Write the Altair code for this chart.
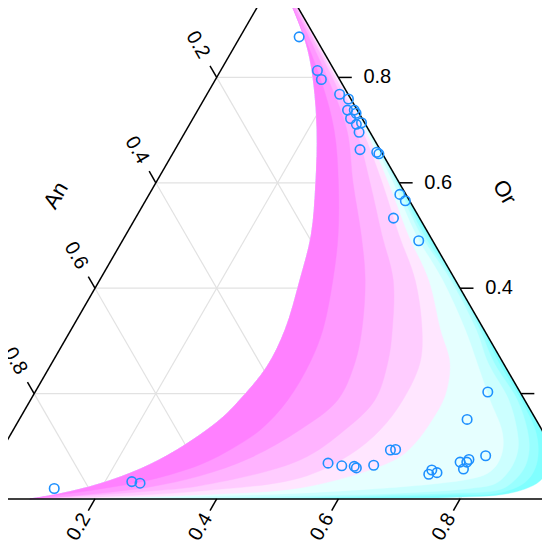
import altair as alt
import numpy as np
import pandas as pd

# ---------------- data (ternary fractions: An, Ab, Or) ----------------
pt_an = [0.026, 0.028, 0.030, 0.014, 0.004, 0.016, 0.005, 0.005, 0.019, 0.005,
         0.015, 0.018, 0.033, 0.008, 0.006, 0.010, 0.007, 0.043, 0.023, 0.053,
         0.113, 0.117, 0.148, 0.154, 0.165, 0.166, 0.219, 0.213, 0.228, 0.268,
         0.259, 0.383, 0.363, 0.343, 0.341, 0.310, 0.857, 0.723, 0.711]
pt_ab = [0.097, 0.159, 0.174, 0.218, 0.237, 0.246, 0.257, 0.263, 0.259, 0.281,
         0.274, 0.286, 0.304, 0.334, 0.339, 0.412, 0.427, 0.424, 0.487, 0.744,
         0.736, 0.801, 0.777, 0.776, 0.765, 0.777, 0.726, 0.737, 0.725, 0.639,
         0.647, 0.549, 0.574, 0.595, 0.600, 0.626, 0.123, 0.244, 0.259]
pt_or = [0.877, 0.813, 0.796, 0.768, 0.759, 0.738, 0.738, 0.732, 0.722, 0.714,
         0.711, 0.696, 0.663, 0.658, 0.655, 0.578, 0.566, 0.533, 0.490, 0.203,
         0.151, 0.082, 0.075, 0.070, 0.070, 0.057, 0.055, 0.050, 0.047, 0.093,
         0.094, 0.068, 0.063, 0.062, 0.059, 0.064, 0.020, 0.033, 0.030]

# density-band outlines as (Ab, Or) pairs
inner_curve = [(0, 1), (0.079, 0.909), (0.124, 0.852), (0.165, 0.789), (0.215, 0.700),
               (0.263, 0.600), (0.305, 0.501), (0.329, 0.416), (0.352, 0.321),
               (0.357, 0.251), (0.344, 0.188), (0.330, 0.150), (0.288, 0.093),
               (0.246, 0.057), (0.194, 0.029), (0.138, 0.010), (0.093, 0.0)]
level_1 = [(0, 1), (0.2, 0.8), (0.4, 0.6), (0.6, 0.4), (0.75, 0.25), (0.85, 0.15),
           (0.884, 0.112), (0.906, 0.078), (0.915, 0.055), (0.914, 0.034),
           (0.897, 0.019), (0.862, 0.008), (0.782, 0.003), (0.701, 0.001),
           (0.537, 0.0), (0.093, 0.0)]
level_2 = [(0, 1), (0.200, 0.800), (0.300, 0.700), (0.399, 0.600), (0.495, 0.501),
           (0.583, 0.416), (0.676, 0.321), (0.735, 0.258), (0.806, 0.188),
           (0.858, 0.131), (0.882, 0.093), (0.894, 0.059), (0.891, 0.032),
           (0.860, 0.012), (0.780, 0.008), (0.699, 0.005), (0.536, 0.002), (0.093, 0.0)]
level_3 = [(0, 1), (0.199, 0.801), (0.299, 0.700), (0.397, 0.600), (0.490, 0.501),
           (0.580, 0.416), (0.672, 0.321), (0.727, 0.258), (0.800, 0.188),
           (0.845, 0.131), (0.867, 0.093), (0.876, 0.061), (0.872, 0.036),
           (0.857, 0.018), (0.778, 0.011), (0.697, 0.008), (0.536, 0.003),
           (0.372, 0.001), (0.093, 0.0)]
level_4 = [(0, 1), (0.199, 0.801), (0.299, 0.700), (0.395, 0.600), (0.485, 0.501),
           (0.576, 0.416), (0.666, 0.321), (0.717, 0.258), (0.786, 0.188),
           (0.828, 0.131), (0.847, 0.097), (0.854, 0.068), (0.852, 0.044),
           (0.843, 0.029), (0.806, 0.020), (0.696, 0.011), (0.534, 0.006),
           (0.372, 0.002), (0.093, 0.0)]
level_5 = [(0, 1), (0.198, 0.801), (0.297, 0.700), (0.390, 0.600), (0.477, 0.501),
           (0.563, 0.416), (0.648, 0.321), (0.699, 0.258), (0.755, 0.188),
           (0.803, 0.131), (0.822, 0.097), (0.828, 0.068), (0.821, 0.049),
           (0.797, 0.038), (0.752, 0.030), (0.690, 0.023), (0.531, 0.011),
           (0.370, 0.005), (0.208, 0.001), (0.093, 0.0)]
level_6 = [(0, 1), (0.197, 0.801), (0.294, 0.700), (0.382, 0.600), (0.464, 0.501),
           (0.540, 0.416), (0.607, 0.321), (0.654, 0.258), (0.677, 0.197),
           (0.679, 0.150), (0.673, 0.106), (0.661, 0.080), (0.624, 0.055),
           (0.526, 0.021), (0.369, 0.008), (0.207, 0.002), (0.093, 0.0)]
level_7 = [(0, 1), (0.194, 0.801), (0.289, 0.700), (0.372, 0.600), (0.449, 0.501),
           (0.518, 0.416), (0.577, 0.321), (0.605, 0.258), (0.612, 0.188),
           (0.603, 0.131), (0.577, 0.084), (0.517, 0.040), (0.365, 0.015),
           (0.206, 0.004), (0.093, 0.0)]
level_8 = [(0, 1), (0.189, 0.801), (0.279, 0.700), (0.352, 0.600), (0.421, 0.501),
           (0.482, 0.416), (0.528, 0.321), (0.552, 0.258), (0.566, 0.188),
           (0.545, 0.131), (0.500, 0.074), (0.360, 0.025), (0.283, 0.015),
           (0.204, 0.008), (0.093, 0.0)]
level_9 = [(0, 1), (0.181, 0.801), (0.264, 0.700), (0.324, 0.600), (0.387, 0.501),
           (0.436, 0.416), (0.478, 0.321), (0.498, 0.258), (0.505, 0.188),
           (0.471, 0.131), (0.416, 0.078), (0.351, 0.044), (0.279, 0.023),
           (0.203, 0.011), (0.141, 0.004), (0.093, 0.0)]
level_10 = [(0, 1), (0.169, 0.801), (0.243, 0.700), (0.300, 0.600), (0.349, 0.501),
            (0.383, 0.416), (0.414, 0.321), (0.424, 0.258), (0.423, 0.188),
            (0.406, 0.131), (0.375, 0.093), (0.340, 0.065), (0.272, 0.036),
            (0.199, 0.019), (0.139, 0.008), (0.093, 0.0)]
levels = [level_1, level_2, level_3, level_4, level_5,
          level_6, level_7, level_8, level_9, level_10]
level_colors = ["#80FFFF", "#99FFFF", "#B3FFFF", "#CCFFFF", "#E6FFFF",
                "#FFE6FF", "#FFCCFF", "#FFB3FF", "#FF99FF", "#FF80FF"]

tick_values = [0.2, 0.4, 0.6, 0.8]
tick_labels = ["0.2", "0.4", "0.6", "0.8"]
axis_titles = {"An": "An", "Ab": "Ab", "Or": "Or"}

# ---------------- helpers ----------------
H = np.sqrt(3) / 2
W_PX, H_PX = 534, 534


def cart(ab, orr):
    return ab + orr / 2.0, orr * H


XS = alt.Scale(domain=[0.05703, 0.93459], nice=False, zero=False)
YS = alt.Scale(domain=[-0.07067, 0.80690], nice=False, zero=False)


def enc_xy():
    return dict(x=alt.X("x:Q", scale=XS, axis=None),
                y=alt.Y("y:Q", scale=YS, axis=None))


layers = []

# grid lines
grid = []
for v in tick_values:
    for (a1, o1), (a2, o2) in [((0, v), (1 - v, v)),
                               ((v, 0), (v, 1 - v)),
                               ((1 - v, 0), (0, 1 - v))]:
        x1, y1 = cart(a1, o1)
        x2, y2 = cart(a2, o2)
        grid.append(dict(x=x1, y=y1, x2=x2, y2=y2))
layers.append(alt.Chart(pd.DataFrame(grid)).mark_rule(color="#e2e2e2", strokeWidth=1.2)
              .encode(**enc_xy(), x2="x2:Q", y2="y2:Q"))

# density bands
for lev, col in zip(levels, level_colors):
    poly = list(inner_curve) + list(reversed(lev))
    rows = []
    for i, (ab, orr) in enumerate(poly):
        x, y = cart(ab, orr)
        rows.append(dict(x=x, y=y, i=i))
    layers.append(alt.Chart(pd.DataFrame(rows))
                  .mark_line(fill=col, stroke=col, strokeWidth=0.4,
                             interpolate="catmull-rom")
                  .encode(**enc_xy(), order="i:Q"))

# triangle outline
verts = [(0, 0), (1, 0), (0, 1)]  # (Ab, Or) of the An, Ab, Or vertices
edges = []
for k in range(3):
    x1, y1 = cart(*verts[k])
    x2, y2 = cart(*verts[(k + 1) % 3])
    edges.append(dict(x=x1, y=y1, x2=x2, y2=y2))
layers.append(alt.Chart(pd.DataFrame(edges)).mark_rule(color="black", strokeWidth=1.5)
              .encode(**enc_xy(), x2="x2:Q", y2="y2:Q"))

# ticks + labels
TL = 0.022
axes = {
    "An": dict(pt=lambda v: (0.0, 1 - v), d=(-0.5, H), angle=60, lo=0.062),
    "Or": dict(pt=lambda v: (1 - v, v), d=(1.0, 0.0), angle=0, lo=0.064),
    "Ab": dict(pt=lambda v: (v, 0.0), d=(-0.5, -H), angle=300, lo=0.053),
}
for name, spec in axes.items():
    ticks, labs = [], []
    for v, lab in zip(tick_values, tick_labels):
        x, y = cart(*spec["pt"](v))
        dx, dy = spec["d"]
        ticks.append(dict(x=x, y=y, x2=x + TL * dx, y2=y + TL * dy))
        labs.append(dict(x=x + spec["lo"] * dx, y=y + spec["lo"] * dy, t=lab))
    layers.append(alt.Chart(pd.DataFrame(ticks)).mark_rule(color="black", strokeWidth=1.5)
                  .encode(**enc_xy(), x2="x2:Q", y2="y2:Q"))
    layers.append(alt.Chart(pd.DataFrame(labs))
                  .mark_text(angle=spec["angle"], fontSize=20, font="Liberation Sans",
                             align="center", baseline="middle", color="black")
                  .encode(**enc_xy(), text="t:N"))

# axis titles
titles = [
    ("An", (0.25 - 0.132 * H, H / 2 + 0.132 * 0.5), 300),
    ("Or", (0.75 + 0.142 * H, H / 2 + 0.142 * 0.5), 60),
    ("Ab", (0.5, -0.132), 0),
]
for key, (x, y), ang in titles:
    layers.append(alt.Chart(pd.DataFrame([dict(x=x, y=y, t=axis_titles[key])]))
                  .mark_text(angle=ang, fontSize=22, font="Liberation Sans",
                             align="center", baseline="middle", color="black")
                  .encode(**enc_xy(), text="t:N"))

# observations
pts = []
for an, ab, orr in zip(pt_an, pt_ab, pt_or):
    s = an + ab + orr
    x, y = cart(ab / s, orr / s)
    pts.append(dict(x=x, y=y))
layers.append(alt.Chart(pd.DataFrame(pts))
              .mark_point(shape="circle", filled=False, color="#1E90FF", size=90,
                          strokeWidth=1.6, opacity=1)
              .encode(**enc_xy()))

chart = (alt.layer(*layers)
         .properties(width=W_PX, height=H_PX, padding=0,
                     autosize=alt.AutoSizeParams(type="none"))
         .configure_view(stroke=None))

chart.save("out.html", embed_options={"renderer": "svg", "actions": False})
